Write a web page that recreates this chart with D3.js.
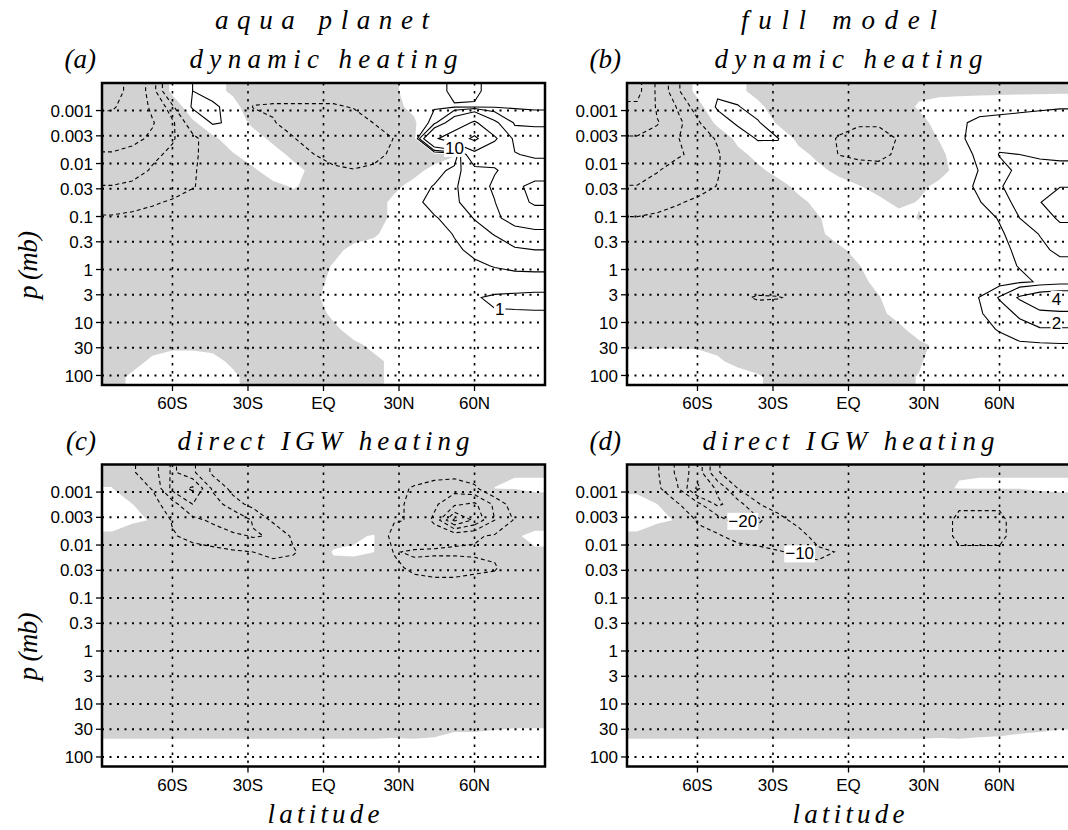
<!DOCTYPE html>
<html>
<head>
<meta charset="utf-8">
<script src="https://cdn.jsdelivr.net/npm/d3@7"></script>
<style>
  body { margin: 0; background: #fff; }
  svg { display: block; }
  .tick-label { font-family: "Liberation Sans", Arial, sans-serif; font-size: 17px; fill: #000; }
  .serif { font-family: "Liberation Serif", "Times New Roman", serif; font-style: italic; font-size: 27px; fill: #000; }
  .clabel { font-family: "Liberation Sans", Arial, sans-serif; font-size: 17px; fill: #000; }
</style>
</head>
<body>
<svg id="chart" width="1068" height="830"></svg>
<script>
// axis ticks
const latTicks = [-60, -30, 0, 30, 60];
const latTickLabels = ["60S", "30S", "EQ", "30N", "60N"];
const pTicks = [0.001, 0.003, 0.01, 0.03, 0.1, 0.3, 1, 3, 10, 30, 100];
const pTickLabels = ["0.001", "0.003", "0.01", "0.03", "0.1", "0.3", "1", "3", "10", "30", "100"];

// grid: 22 latitude cells of 8 deg from 88S, 19 pressure cells of 0.3 decade from 10^-3.52 mb
const latEdge0 = -88, latStep = 8, nLat = 22;
const logPEdge0 = -3.52, logPStep = 0.3, nLev = 19;

// contour levels
const dynLevels = [-20, -10, -4, -2, -1, 1, 2, 4, 10, 20];
const igwLevels = [-60, -50, -40, -30, -20, -10];

// (a) aqua planet, dynamic heating (rows top -> bottom, columns south -> north)
const aquaDynamic = [
  [-14, -7, -2.5, 0.5, 1, 0.6, -0.3, -0.5, -0.6, -0.6, -0.6, -0.6, -0.5, -0.4, -0.1, 0.3, 0.5, 1.3, 1.2, 0.6, 0.5, 0.5],
  [-11, -6, -3.5, -1.2, 1.2, 1.2, 0.6, -1.05, -1.1, -1.1, -1.1, -1.1, -0.95, -0.7, -0.3, 0.3, 0.9, 0.9, 0.9, 0.9, 0.9, 0.8],
  [-7, -5, -4.2, -2.2, -0.3, 1.15, 0.8, -0.3, -0.95, -1.3, -1.5, -1.5, -1.4, -0.98, -0.6, -0.2, 1.5, 6, 11, 4.5, 1.8, 1.8],
  [-5, -4.6, -3.6, -2.1, -1.3, -0.3, 0.7, 0.6, -0.3, -0.95, -1.4, -1.6, -1.6, -1.4, -0.98, -0.5, 9, 14, 22, 11, 3.0, 2.6],
  [-3.8, -3.3, -2.2, -1.8, -1.2, -0.5, -0.1, 0.6, 0.5, -0.3, -0.98, -1.4, -1.5, -1.3, -0.8, -0.7, -0.5, -0.2, 7, 5, 4.2, 3.4],
  [-2.8, -2.4, -1.9, -1.5, -1.1, -0.6, -0.4, -0.2, 0.6, 0.4, -0.3, -0.8, -0.95, -0.8, -0.5, -0.3, 0.3, 1.5, 3, 3.8, 5, 6],
  [-1.95, -1.8, -1.6, -1.4, -1.05, -0.7, -0.5, -0.4, -0.3, 0.1, -0.3, -0.5, -0.5, -0.5, -0.2, 0.3, 1.1, 1.9, 2.5, 4.5, 8.5, 12],
  [-1.4, -1.3, -1.1, -0.9, -0.7, -0.6, -0.5, -0.5, -0.5, -0.5, -0.5, -0.5, -0.5, -0.4, 0.2, 0.7, 1.4, 1.8, 2.6, 3.9, 7.5, 11],
  [-0.9, -0.8, -0.7, -0.6, -0.6, -0.6, -0.6, -0.6, -0.6, -0.6, -0.6, -0.6, -0.5, -0.4, 0.2, 0.5, 0.9, 1.4, 2.05, 3.5, 5, 6],
  [-0.7, -0.7, -0.6, -0.6, -0.6, -0.6, -0.6, -0.6, -0.6, -0.6, -0.5, -0.5, -0.3, -0.1, 0.3, 0.4, 0.6, 1.05, 1.6, 2.05, 3, 3.2],
  [-0.6, -0.6, -0.6, -0.6, -0.6, -0.6, -0.6, -0.6, -0.6, -0.5, -0.4, -0.2, 0.2, 0.3, 0.4, 0.5, 0.6, 0.85, 1.2, 1.5, 1.8, 2.0],
  [-0.6, -0.6, -0.6, -0.6, -0.6, -0.6, -0.6, -0.6, -0.5, -0.4, -0.3, 0.05, 0.2, 0.3, 0.4, 0.5, 0.6, 0.7, 0.85, 1.05, 1.2, 1.25],
  [-0.6, -0.6, -0.6, -0.6, -0.6, -0.6, -0.6, -0.5, -0.4, -0.3, -0.2, 0.15, 0.3, 0.4, 0.4, 0.4, 0.5, 0.5, 0.6, 0.6, 0.6, 0.6],
  [-0.6, -0.6, -0.6, -0.6, -0.6, -0.6, -0.5, -0.5, -0.4, -0.3, -0.1, 0.2, 0.3, 0.4, 0.4, 0.5, 0.5, 0.55, 0.95, 1.1, 1.15, 1.2],
  [-0.6, -0.6, -0.6, -0.6, -0.6, -0.6, -0.5, -0.5, -0.4, -0.3, -0.2, 0.1, 0.3, 0.4, 0.4, 0.5, 0.5, 0.6, 0.8, 0.95, 0.95, 0.95],
  [-0.6, -0.6, -0.6, -0.6, -0.6, -0.6, -0.5, -0.5, -0.4, -0.3, -0.2, -0.1, 0.2, 0.3, 0.4, 0.4, 0.5, 0.5, 0.6, 0.8, 0.9, 0.9],
  [-0.5, -0.4, -0.2, -0.1, -0.1, -0.15, -0.3, -0.5, -0.4, -0.3, -0.3, -0.2, -0.1, 0.1, 0.3, 0.4, 0.4, 0.5, 0.5, 0.6, 0.7, 0.7],
  [-0.4, -0.2, 0.1, 0.2, 0.2, 0.15, -0.1, -0.3, -0.3, -0.3, -0.3, -0.3, -0.2, -0.1, 0.1, 0.3, 0.4, 0.4, 0.5, 0.5, 0.6, 0.6],
  [-0.2, 0.1, 0.2, 0.3, 0.3, 0.25, 0.1, -0.2, -0.3, -0.3, -0.3, -0.3, -0.2, -0.1, 0.1, 0.3, 0.4, 0.4, 0.5, 0.5, 0.5, 0.5]
];

// (b) full model, dynamic heating
const fullDynamic = [
  [-12, -3, -1.2, 0.4, 0.8, 0.3, -0.4, -0.5, -0.5, -0.5, -0.5, -0.5, -0.5, -0.4, -0.2, -0.2, -0.2, -0.2, -0.2, -0.2, -0.2, -0.2],
  [-9, -3.5, -1.9, -0.5, 1.2, 1.1, 0.3, -0.6, -0.7, -0.7, -0.7, -0.7, -0.6, -0.4, 0.1, 0.3, 0.4, 0.5, 0.6, 0.7, 0.8, 0.9],
  [-6, -4.2, -2.3, -1.2, 0.3, 1.2, 1.15, -0.2, -0.6, -0.7, -0.8, -0.9, -0.9, -0.6, -0.3, 0.3, 0.8, 1.3, 1.4, 1.5, 1.6, 1.7],
  [-3.6, -3.0, -2.05, -1.5, -0.9, 0.3, 1.1, 1.05, -0.3, -0.7, -1.05, -1.3, -1.3, -0.95, -0.6, 0.05, 0.8, 1.5, 1.7, 1.8, 1.8, 1.9],
  [-3.0, -2.6, -2.1, -1.8, -1.1, -0.3, 0.3, 0.6, 0.4, -0.3, -1.02, -1.2, -1.15, -0.9, -0.7, -0.3, 0.6, 1.2, 2.05, 2.0, 1.8, 1.8],
  [-2.3, -2.05, -1.7, -1.4, -1.05, -0.6, -0.2, 0.3, 0.6, 0.3, -0.3, -0.6, -0.8, -0.8, -0.7, -0.3, 0.3, 1.05, 1.7, 2.2, 2.5, 2.3],
  [-1.98, -1.7, -1.5, -1.2, -0.98, -0.7, -0.5, -0.3, 0.2, 0.5, 0.5, 0.05, -0.3, -0.4, -0.2, 0.2, 0.6, 1.2, 1.9, 2.5, 3.2, 3.9],
  [-1.5, -1.3, -1.05, -0.9, -0.7, -0.6, -0.5, -0.4, -0.2, 0.2, 0.4, 0.4, 0.2, -0.2, 0.05, 0.3, 0.6, 0.95, 1.6, 2.3, 3.9, 5.5],
  [-0.95, -0.85, -0.8, -0.7, -0.6, -0.5, -0.45, -0.4, -0.3, -0.05, 0.3, 0.4, 0.4, 0.3, -0.05, 0.3, 0.5, 0.7, 1.05, 2.0, 3, 4.3],
  [-0.7, -0.7, -0.6, -0.6, -0.5, -0.5, -0.4, -0.4, -0.3, -0.1, 0.2, 0.3, 0.3, 0.3, 0.3, 0.4, 0.5, 0.7, 0.9, 1.3, 2.05, 3.2],
  [-0.6, -0.6, -0.6, -0.5, -0.5, -0.5, -0.4, -0.4, -0.3, -0.2, -0.1, 0.15, 0.3, 0.3, 0.3, 0.4, 0.5, 0.6, 0.8, 1.15, 1.7, 2.3],
  [-0.6, -0.6, -0.6, -0.5, -0.5, -0.5, -0.4, -0.4, -0.3, -0.2, -0.15, -0.02, 0.2, 0.3, 0.3, 0.4, 0.4, 0.5, 0.7, 1.05, 1.3, 1.6],
  [-0.6, -0.6, -0.6, -0.5, -0.5, -0.5, -0.4, -0.4, -0.3, -0.2, -0.15, -0.1, 0.1, 0.2, 0.3, 0.3, 0.4, 0.5, 0.6, 0.8, 1.1, 1.3],
  [-0.6, -0.6, -0.6, -0.6, -0.6, -0.8, -1.1, -1.05, -0.8, -0.5, -0.3, -0.15, -0.02, 0.2, 0.3, 0.4, 0.5, 1.02, 2.1, 4.3, 5.5, 6],
  [-0.5, -0.5, -0.5, -0.5, -0.5, -0.5, -0.5, -0.5, -0.4, -0.3, -0.2, -0.15, -0.1, 0.15, 0.3, 0.4, 0.5, 0.9, 1.5, 2.2, 3.6, 3.7],
  [-0.4, -0.4, -0.4, -0.4, -0.4, -0.4, -0.4, -0.4, -0.4, -0.3, -0.3, -0.2, -0.15, -0.1, 0.2, 0.4, 0.5, 0.8, 1.05, 1.6, 1.8, 1.8],
  [-0.05, -0.05, -0.05, -0.05, -0.1, -0.2, -0.3, -0.3, -0.3, -0.3, -0.3, -0.3, -0.3, -0.2, -0.1, 0.1, 0.4, 0.6, 0.75, 0.8, 0.85, 0.9],
  [0.15, 0.2, 0.2, 0.15, 0.05, -0.1, -0.2, -0.3, -0.3, -0.3, -0.3, -0.3, -0.3, -0.2, -0.05, 0.2, 0.4, 0.5, 0.6, 0.6, 0.6, 0.6],
  [0.3, 0.3, 0.3, 0.3, 0.2, 0.15, 0.05, -0.15, -0.3, -0.3, -0.3, -0.3, -0.2, -0.1, 0.02, 0.3, 0.4, 0.5, 0.5, 0.5, 0.5, 0.5]
];

// (c) aqua planet, direct IGW heating
const aquaIGW = [
  [-1, -9, -15, -32, -22, -8, -4, -3, -3, -3, -3, -3, -3, -3, -4, -5, -6, -6, -4, -0.5, -0.1, -0.1],
  [0.1, -5, -10.5, -33, -42, -18, -7, -4, -3, -3, -3, -3, -3, -4, -7, -11, -14, -16, -12, 0.05, 0.2, 0.2],
  [0.5, 0.2, -6, -16, -30, -26, -14, -7, -4, -3, -3, -3, -3, -5, -8, -12, -18, -28, -32, -18, -4, -0.6],
  [0.5, 0.3, -0.1, -11, -17, -22, -30, -19, -8, -4, -3, -3, -3, -6, -9, -11, -22, -52, -38, -20, -9, -2],
  [-0.2, -1, -3, -9, -13, -14, -17, -21, -19, -8, -4, -3, -1, 0.5, -14, -16, -14, -12, -11, -9, -0.5, 1.0],
  [-1.5, -2, -3, -4, -6, -8, -9, -10, -13, -11, -5, 0.6, 0.8, 0.1, -10.5, -9, -9, -9, -9, -8, -4, -0.5],
  [-2, -2, -2.5, -3, -3, -4, -4, -5, -6, -6, -4, -2, -2, -5, -8, -12, -13, -13, -12, -11, -4, -2],
  [-2, -2, -2, -2, -2, -2.5, -2.5, -3, -3, -3, -3, -2, -2, -3, -5, -7, -8, -8, -7, -6, -3, -2],
  [-2, -2, -2, -2, -2, -2, -2, -2, -2, -2, -2, -2, -2, -2, -3, -3, -4, -4, -3, -3, -2, -2],
  [-2, -2, -2, -2, -2, -2, -2, -2, -2, -2, -2, -2, -2, -2, -2, -2, -2, -2, -2, -2, -2, -2],
  [-2, -2, -2, -2, -2, -2, -2, -2, -2, -2, -2, -2, -2, -2, -2, -2, -2, -2, -2, -2, -2, -2],
  [-2, -2, -2, -2, -2, -2, -2, -2, -2, -2, -2, -2, -2, -2, -2, -2, -2, -2, -2, -2, -2, -2],
  [-2, -2, -2, -2, -2, -2, -2, -2, -2, -2, -2, -2, -2, -2, -2, -2, -2, -2, -2, -2, -2, -2],
  [-2, -2, -2, -2, -2, -2, -2, -2, -2, -2, -2, -2, -2, -2, -2, -2, -2, -2, -2, -2, -2, -2],
  [-2, -2, -2, -2, -2, -2, -2, -2, -2, -2, -2, -2, -2, -2, -2, -2, -2, -2, -2, -2, -2, -2],
  [-1, -1, -1, -1, -1, -1, -1, -1, -1, -1, -1, -1, -1, -1, -1, -1, -1, -1, -1, -1, -1, -1],
  [-0.3, -0.3, -0.3, -0.3, -0.3, -0.3, -0.3, -0.3, -0.3, -0.3, -0.3, -0.3, -0.3, -0.3, -0.25, -0.3, -0.2, -0.1, -0.1, -0.05, -0.02, -0.02],
  [0.1, 0.1, 0.1, 0.1, 0.1, 0.1, 0.1, 0.1, 0.1, 0.1, 0.1, 0.1, 0.1, 0.1, 0.1, 0.1, 0.1, 0.2, 0.2, 0.2, 0.2, 0.2],
  [0.3, 0.3, 0.3, 0.3, 0.3, 0.3, 0.3, 0.3, 0.3, 0.3, 0.3, 0.3, 0.3, 0.3, 0.3, 0.3, 0.3, 0.3, 0.3, 0.3, 0.3, 0.3]
];

// (d) full model, direct IGW heating
const fullIGW = [
  [-4, -9, -22, -36, -10.5, -6, -4, -3, -3, -3, -3, -3, -3, -3, -3, -1, -0.1, -0.1, -0.1, -0.1, -0.1, -0.1],
  [-0.3, -8, -19, -42, -28, -10, -6, -4, -3, -3, -3, -3, -3, -3, -2, -0.3, 0.1, 0.2, 0.2, 0.2, 0.2, 0.2],
  [0.5, 0.1, -9, -17, -32, -24, -10.5, -6, -4, -3, -3, -3, -3, -3, -4, -6, -9, -9, -9, -6, -1, -0.6],
  [0.5, 0.3, -0.1, -11, -15, -25, -22, -13, -7, -4, -3, -3, -3, -3, -4, -7, -11.5, -11.5, -11.5, -7, -4, -3],
  [-0.2, -1, -3, -7, -9, -13, -15, -19, -14, -6, -3, -3, -3, -3, -4, -7, -11.5, -11.5, -11.5, -7, -4, -3],
  [-1, -2, -3, -4, -5, -6, -7, -9, -12, -12, -9.5, -3, -3, -3, -3, -5, -9, -9, -9, -5, -3, -3],
  [-1, -1.5, -2, -2.5, -3, -3, -3.5, -4, -6, -8, -6, -3, -3, -3, -3, -4, -6, -6, -6, -4, -3, -3],
  [-2, -2, -2, -2, -2, -2, -2, -2, -2, -2, -2, -2, -2, -2, -2, -2, -2, -2, -2, -2, -2, -2],
  [-2, -2, -2, -2, -2, -2, -2, -2, -2, -2, -2, -2, -2, -2, -2, -2, -2, -2, -2, -2, -2, -2],
  [-2, -2, -2, -2, -2, -2, -2, -2, -2, -2, -2, -2, -2, -2, -2, -2, -2, -2, -2, -2, -2, -2],
  [-2, -2, -2, -2, -2, -2, -2, -2, -2, -2, -2, -2, -2, -2, -2, -2, -2, -2, -2, -2, -2, -2],
  [-2, -2, -2, -2, -2, -2, -2, -2, -2, -2, -2, -2, -2, -2, -2, -2, -2, -2, -2, -2, -2, -2],
  [-2, -2, -2, -2, -2, -2, -2, -2, -2, -2, -2, -2, -2, -2, -2, -2, -2, -2, -2, -2, -2, -2],
  [-2, -2, -2, -2, -2, -2, -2, -2, -2, -2, -2, -2, -2, -2, -2, -2, -2, -2, -2, -2, -2, -2],
  [-2, -2, -2, -2, -2, -2, -2, -2, -2, -2, -2, -2, -2, -2, -2, -2, -2, -2, -2, -2, -2, -2],
  [-1, -1, -1, -1, -1, -1, -1, -1, -1, -1, -1, -1, -1, -1, -1, -1, -1, -1, -1, -1, -1, -1],
  [-0.3, -0.3, -0.3, -0.3, -0.3, -0.3, -0.3, -0.3, -0.3, -0.3, -0.3, -0.3, -0.3, -0.3, -0.3, -0.25, -0.3, -0.2, -0.15, -0.08, -0.05, -0.02],
  [0.1, 0.1, 0.1, 0.1, 0.1, 0.1, 0.1, 0.1, 0.1, 0.1, 0.1, 0.1, 0.1, 0.1, 0.1, 0.1, 0.1, 0.1, 0.1, 0.1, 0.1, 0.1],
  [0.3, 0.3, 0.3, 0.3, 0.3, 0.3, 0.3, 0.3, 0.3, 0.3, 0.3, 0.3, 0.3, 0.3, 0.3, 0.3, 0.3, 0.3, 0.3, 0.3, 0.3, 0.3]
];

// contour labels (lat, pressure in mb, text)
const aquaDynLabels = [
  { lat: 52, p: 0.0051, text: "10" },
  { lat: 70, p: 5.6, text: "1" }
];
const fullDynLabels = [
  { lat: 82.6, p: 3.6, text: "4" },
  { lat: 82.6, p: 10.3, text: "2" }
];
const fullIgwLabels = [
  { lat: -42, p: 0.0035, text: "\u221220" },
  { lat: -19.4, p: 0.0144, text: "\u221210" }
];

const W = 443, H = 302;
const shade = "#d2d2d2";

const svg = d3.select("#chart");

const x = d3.scaleLinear().domain([-88, 88]).range([0, W]);
const y = d3.scaleLog()
  .domain([Math.pow(10, logPEdge0 + nLev * logPStep), Math.pow(10, logPEdge0)])
  .range([H, 0]);

// the grid gets one repeated cell on each side so contour rings close outside the frame
function padGrid(rows) {
  const wide = rows.map(r => [r[0], ...r, r[r.length - 1]]);
  return [wide[0], ...wide, wide[wide.length - 1]];
}

// contour coordinates are in (padded) grid units, convert them through the scales
const ringLine = d3.line()
  .x(d => x(latEdge0 + (d[0] - 1) * latStep))
  .y(d => y(Math.pow(10, logPEdge0 + (d[1] - 1) * logPStep)));

function geomPath(geom) {
  return geom.coordinates
    .map(poly => poly.map(ring => ringLine(ring) + "Z").join(""))
    .join("");
}

const panels = [
  { letter: "(a)", title: "dynamic heating", values: aquaDynamic, levels: dynLevels, labels: aquaDynLabels, left: 102, top: 83 },
  { letter: "(b)", title: "dynamic heating", values: fullDynamic, levels: dynLevels, labels: fullDynLabels, left: 627, top: 83 },
  { letter: "(c)", title: "direct IGW heating", values: aquaIGW, levels: igwLevels, labels: [], left: 102, top: 464.5 },
  { letter: "(d)", title: "direct IGW heating", values: fullIGW, levels: igwLevels, labels: fullIgwLabels, left: 627, top: 464.5 }
];

panels.forEach((panel, k) => {
  const g = svg.append("g").attr("transform", `translate(${panel.left},${panel.top})`);

  g.append("clipPath").attr("id", "clip" + k)
    .append("rect").attr("width", W).attr("height", H);

  const plot = g.append("g").attr("clip-path", `url(#clip${k})`);
  plot.append("rect").attr("width", W).attr("height", H).attr("fill", "#fff");

  const flat = padGrid(panel.values).flat();
  const contours = d3.contours().size([nLat + 2, nLev + 2]);

  // shading of negative values
  const negative = contours.thresholds([0])(flat.map(v => -v))[0];
  plot.append("path")
    .attr("d", geomPath(negative))
    .attr("fill", shade)
    .attr("fill-rule", "evenodd");

  // dotted grid
  plot.selectAll(".hgrid")
    .data(pTicks)
    .enter()
    .append("line")
    .attr("x1", 0).attr("x2", W)
    .attr("y1", d => y(d)).attr("y2", d => y(d))
    .attr("stroke", "#000")
    .attr("stroke-width", 2)
    .attr("stroke-dasharray", "2,5.5");

  plot.selectAll(".vgrid")
    .data(latTicks)
    .enter()
    .append("line")
    .attr("x1", d => x(d)).attr("x2", d => x(d))
    .attr("y1", 0).attr("y2", H)
    .attr("stroke", "#000")
    .attr("stroke-width", 1.6)
    .attr("stroke-dasharray", "2.5,5.5");

  // contour lines
  panel.levels.forEach(level => {
    const geom = contours.thresholds([level])(flat)[0];
    if (!geom.coordinates.length) return;
    plot.append("path")
      .attr("d", geomPath(geom))
      .attr("fill", "none")
      .attr("stroke", "#000")
      .attr("stroke-width", 1.1)
      .attr("stroke-dasharray", level < 0 ? "4,3" : null);
  });

  // contour labels with white background
  panel.labels.forEach(lab => {
    const t = plot.append("text")
      .attr("class", "clabel")
      .attr("x", x(lab.lat))
      .attr("y", y(lab.p))
      .attr("dy", "0.35em")
      .attr("text-anchor", "middle")
      .text(lab.text);
    const bb = t.node().getBBox();
    plot.insert("rect", () => t.node())
      .attr("x", bb.x - 1).attr("y", bb.y + 1)
      .attr("width", bb.width + 2).attr("height", bb.height - 2)
      .attr("fill", "#fff");
  });

  // frame
  g.append("rect")
    .attr("width", W).attr("height", H)
    .attr("fill", "none")
    .attr("stroke", "#000")
    .attr("stroke-width", 2.5);

  // y ticks and labels
  g.selectAll(".ytick")
    .data(pTicks)
    .enter()
    .append("line")
    .attr("x1", -6).attr("x2", 0)
    .attr("y1", d => y(d)).attr("y2", d => y(d))
    .attr("stroke", "#000").attr("stroke-width", 1.3);

  g.selectAll(".ylab")
    .data(pTicks)
    .enter()
    .append("text")
    .attr("class", "tick-label")
    .attr("x", -9)
    .attr("y", d => y(d))
    .attr("dy", "0.36em")
    .attr("text-anchor", "end")
    .text((d, i) => pTickLabels[i]);

  // x ticks and labels
  g.selectAll(".xtick")
    .data(latTicks)
    .enter()
    .append("line")
    .attr("x1", d => x(d)).attr("x2", d => x(d))
    .attr("y1", H).attr("y2", H + 6)
    .attr("stroke", "#000").attr("stroke-width", 1.3);

  g.selectAll(".xlab")
    .data(latTicks)
    .enter()
    .append("text")
    .attr("class", "tick-label")
    .attr("x", d => x(d))
    .attr("y", H + 24)
    .attr("text-anchor", "middle")
    .text((d, i) => latTickLabels[i]);

  // panel letter and title
  g.append("text")
    .attr("class", "serif")
    .attr("x", -6)
    .attr("y", -15)
    .attr("text-anchor", "end")
    .text(panel.letter);

  g.append("text")
    .attr("class", "serif")
    .attr("x", W / 2)
    .attr("y", -15)
    .attr("text-anchor", "middle")
    .attr("textLength", panel.title.length > 16 ? 292 : 268)
    .attr("lengthAdjust", "spacing")
    .text(panel.title);

  // y axis title on left panels
  if (panel.left < 300) {
    g.append("text")
      .attr("class", "serif")
      .attr("transform", `translate(-65,${H / 2 + 31}) rotate(-90)`)
      .attr("text-anchor", "middle")
      .attr("textLength", 68)
      .attr("lengthAdjust", "spacing")
      .text("p (mb)");
  }

  // x axis title on bottom panels
  if (panel.top > 300) {
    g.append("text")
      .attr("class", "serif")
      .attr("x", W / 2)
      .attr("y", 823 - panel.top)
      .attr("text-anchor", "middle")
      .attr("textLength", 112)
      .attr("lengthAdjust", "spacing")
      .text("latitude");
  }
});

// column titles
svg.append("text")
  .attr("class", "serif")
  .attr("x", 322).attr("y", 29)
  .attr("text-anchor", "middle")
  .attr("textLength", 214)
  .attr("lengthAdjust", "spacing")
  .text("aqua planet");

svg.append("text")
  .attr("class", "serif")
  .attr("x", 839).attr("y", 29)
  .attr("text-anchor", "middle")
  .attr("textLength", 196)
  .attr("lengthAdjust", "spacing")
  .text("full model");
</script>
</body>
</html>
